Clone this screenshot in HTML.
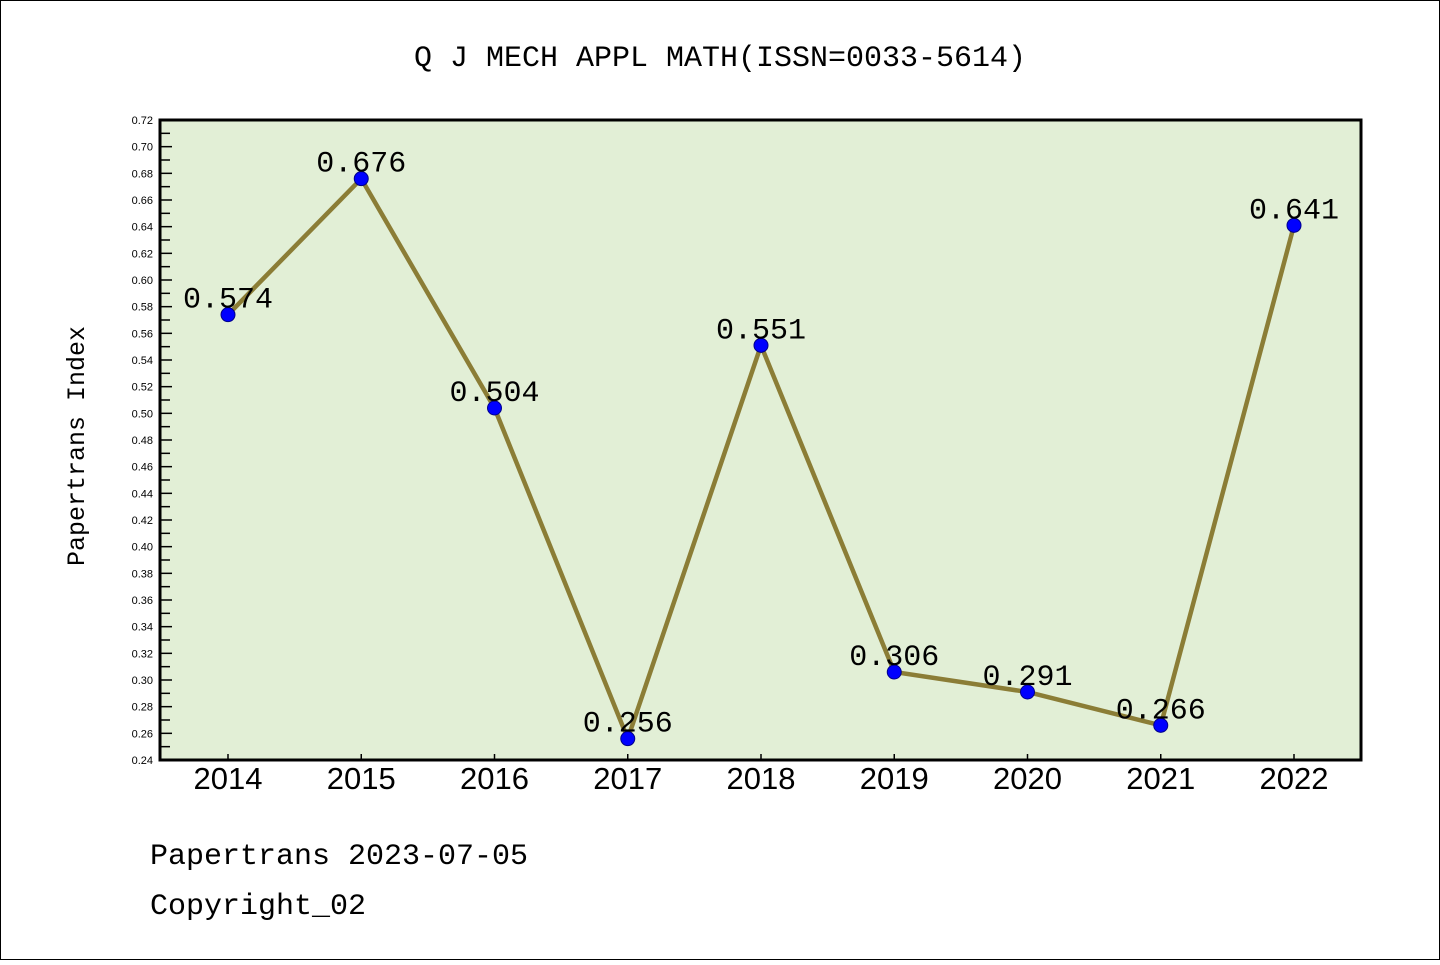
<!DOCTYPE html>
<html><head><meta charset="utf-8"><style>
body{margin:0;background:#fff}
svg text{font-family:"Liberation Mono","DejaVu Sans Mono",monospace}
</style></head><body>
<svg width="1440" height="960" id="c">
<rect x="0.5" y="0.5" width="1439" height="959" fill="#fff" stroke="#000"/>
<text x="720" y="66" text-anchor="middle" font-size="30">Q J MECH APPL MATH(ISSN=0033-5614)</text>
<rect x="160" y="120" width="1201" height="640" fill="#e2efd6"/>
<g id="ticks"></g>
<g id="marks"></g>
<rect x="160" y="120" width="1201" height="640" fill="none" stroke="#000" stroke-width="3"/>
<text transform="translate(84,446) rotate(-90)" text-anchor="middle" font-size="25">Papertrans Index</text>
<text x="150" y="864" font-size="30">Papertrans 2023-07-05</text>
<text x="150" y="914" font-size="30">Copyright_02</text>
</svg>
<script>
const years=["2014","2015","2016","2017","2018","2019","2020","2021","2022"];
const values=[0.574,0.676,0.504,0.256,0.551,0.306,0.291,0.266,0.641];
const valueLabels=["0.574","0.676","0.504","0.256","0.551","0.306","0.291","0.266","0.641"];
const yMin=0.24,yMax=0.72;
const NS="http://www.w3.org/2000/svg";
const X=i=>228+i*133.25;
const Y=v=>760-(v-yMin)/(yMax-yMin)*640;
function mk(t,a,p){const e=document.createElementNS(NS,t);for(const k in a)e.setAttribute(k,a[k]);p.appendChild(e);return e;}
const tg=document.getElementById('ticks'),mg=document.getElementById('marks');
for(let k=0;k<=48;k++){const v=yMin+k*0.01,y=Y(v);
 const l=mk('line',{x1:160,x2:k%2?170:172,y1:y,y2:y,stroke:'#000','stroke-width':1.5},tg);
 
 if(k%2===0){const t=mk('text',{x:153,y:y+4,'text-anchor':'end','font-size':11,style:'font-family:"Liberation Sans",sans-serif'},tg);t.textContent=v.toFixed(2);
 }}
years.forEach((yr,i)=>{const x=X(i);
 const l=mk('line',{x1:x,x2:x,y1:760,y2:754,stroke:'#000','stroke-width':1.5},tg);
 
 const t=mk('text',{x:x,y:789,'text-anchor':'middle','font-size':31,style:'font-family:"Liberation Sans",sans-serif'},tg);t.textContent=yr;
 });
const pl=mk('polyline',{points:values.map((v,i)=>X(i)+','+Y(v)).join(' '),fill:'none',stroke:'#8b7d36','stroke-width':4.5},mg);

values.forEach((v,i)=>{
 const c=mk('circle',{cx:X(i),cy:Y(v),r:7,fill:'#0000ff',stroke:'#00008b','stroke-width':1},mg);
 
 const t=mk('text',{x:X(i),y:Y(v)-7,'text-anchor':'middle','font-size':30},mg);t.textContent=valueLabels[i];
 });
</script>
</body></html>
